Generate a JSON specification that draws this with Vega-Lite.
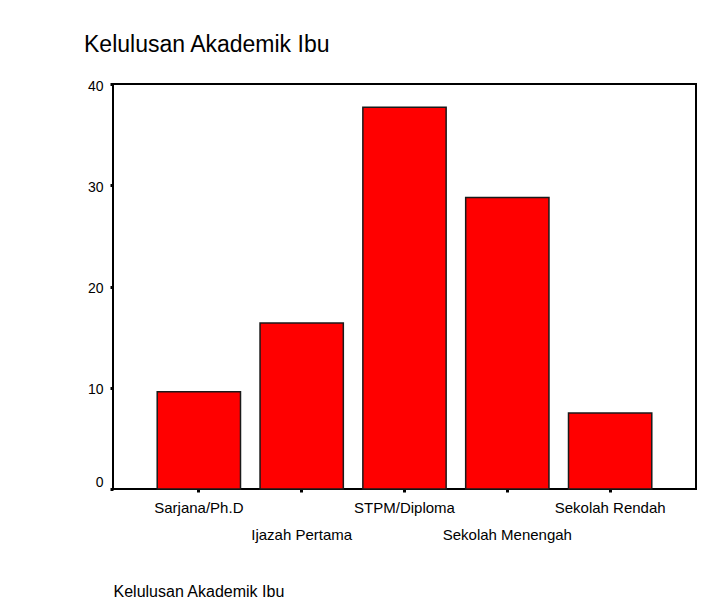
{
  "$schema": "https://vega.github.io/schema/vega-lite/v6.json",
  "width": 583,
  "height": 405,
  "autosize": "none",
  "padding": {"left": 113, "top": 84, "right": 9, "bottom": 125},
  "background": "white",
  "title": {
    "text": "Kelulusan Akademik Ibu",
    "anchor": "start",
    "frame": "group",
    "dx": -29,
    "offset": 22,
    "fontSize": 23,
    "font": "Liberation Sans",
    "fontWeight": "normal",
    "color": "black"
  },
  "data": {
    "values": [
      {"kategori": "Sarjana/Ph.D", "peratus": 9.6},
      {"kategori": "Ijazah Pertama", "peratus": 16.4},
      {"kategori": "STPM/Diploma", "peratus": 37.7},
      {"kategori": "Sekolah Menengah", "peratus": 28.8},
      {"kategori": "Sekolah Rendah", "peratus": 7.5}
    ]
  },
  "mark": {"type": "bar", "color": "#ff0000", "stroke": "#1a1a1a", "strokeWidth": 1.5},
  "encoding": {
    "x": {
      "field": "kategori",
      "type": "nominal",
      "sort": null,
      "scale": {"paddingInner": 0.19, "paddingOuter": 0.43},
      "axis": {
        "title": "Kelulusan Akademik Ibu",
        "titleFont": "Liberation Sans",
        "titleFontSize": 16,
        "titleFontWeight": "normal",
        "titleColor": "black",
        "titleX": 0,
        "titleY": 107,
        "titleAlign": "left",
        "titleBaseline": "alphabetic",
        "labelAngle": 0,
        "labelFont": "Liberation Sans",
        "labelFontSize": 15,
        "labelColor": "black",
        "labelBaseline": "top",
        "labelPadding": {
          "condition": {"test": "datum.value === 'Ijazah Pertama' || datum.value === 'Sekolah Menengah'", "value": 35},
          "value": 8
        },
        "labelOverlap": false,
        "tickSize": 3,
        "tickWidth": 3,
        "tickColor": "black",
        "domain": false,
        "grid": false
      }
    },
    "y": {
      "field": "peratus",
      "type": "quantitative",
      "scale": {"domain": [0, 40], "nice": false},
      "axis": {
        "title": null,
        "values": [0, 10, 20, 30, 40],
        "labelFont": "Liberation Sans",
        "labelFontSize": 14,
        "labelColor": "black",
        "labelPadding": 7,
        "labelOffset": {"condition": {"test": "datum.value === 0", "value": -7}, "value": 2},
        "tickSize": 3,
        "tickWidth": 3,
        "tickColor": "black",
        "domain": false,
        "grid": false
      }
    }
  },
  "config": {"view": {"stroke": "black", "strokeWidth": 2}}
}
